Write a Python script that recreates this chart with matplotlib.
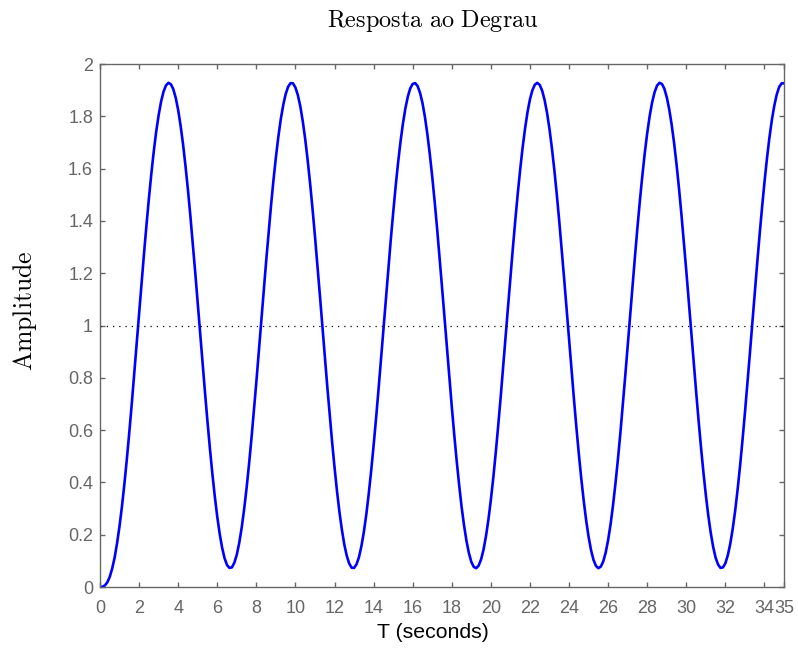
import matplotlib
matplotlib.use("Agg")
import matplotlib.pyplot as plt
import numpy as np
from matplotlib.ticker import FuncFormatter

plt.rcParams['mathtext.fontset'] = 'cm'

# tempo (s) e amplitude, passo de 0.125 s (uma linha = 1 s)
t = np.arange(0, 35.001, 0.125)
y = [0.000, 0.001, 0.006, 0.018, 0.039, 0.071, 0.113, 0.168,
     0.233, 0.309, 0.395, 0.490, 0.592, 0.700, 0.813, 0.928,
     1.044, 1.160, 1.273, 1.381, 1.484, 1.579, 1.665, 1.741,
     1.804, 1.856, 1.894, 1.918, 1.928, 1.923, 1.904, 1.871,
     1.824, 1.764, 1.693, 1.610, 1.519, 1.419, 1.312, 1.201,
     1.086, 0.970, 0.855, 0.742, 0.633, 0.529, 0.433, 0.346,
     0.269, 0.203, 0.150, 0.110, 0.084, 0.073, 0.075, 0.093,
     0.124, 0.169, 0.227, 0.297, 0.378, 0.469, 0.568, 0.674,
     0.784, 0.899, 1.014, 1.130, 1.244, 1.353, 1.458, 1.555,
     1.643, 1.721, 1.789, 1.843, 1.885, 1.913, 1.927, 1.926,
     1.910, 1.881, 1.838, 1.781, 1.713, 1.633, 1.544, 1.446,
     1.341, 1.231, 1.117, 1.001, 0.885, 0.771, 0.661, 0.556,
     0.458, 0.368, 0.288, 0.220, 0.163, 0.120, 0.090, 0.074,
     0.073, 0.087, 0.114, 0.156, 0.210, 0.277, 0.356, 0.444,
     0.541, 0.645, 0.754, 0.868, 0.984, 1.099, 1.214, 1.325,
     1.430, 1.530, 1.621, 1.702, 1.772, 1.830, 1.875, 1.907,
     1.924, 1.927, 1.916, 1.890, 1.851, 1.798, 1.732, 1.655,
     1.569, 1.473, 1.370, 1.260, 1.147, 1.032, 0.916, 0.801,
     0.690, 0.583, 0.483, 0.391, 0.308, 0.237, 0.177, 0.130,
     0.096, 0.077, 0.072, 0.082, 0.106, 0.143, 0.195, 0.258,
     0.334, 0.419, 0.514, 0.617, 0.725, 0.838, 0.953, 1.069,
     1.184, 1.296, 1.403, 1.504, 1.597, 1.681, 1.754, 1.816,
     1.865, 1.900, 1.921, 1.928, 1.920, 1.898, 1.862, 1.813,
     1.751, 1.677, 1.593, 1.499, 1.398, 1.289, 1.178, 1.063,
     0.947, 0.832, 0.719, 0.611, 0.509, 0.415, 0.330, 0.255,
     0.192, 0.141, 0.104, 0.081, 0.072, 0.078, 0.098, 0.132,
     0.180, 0.240, 0.313, 0.396, 0.488, 0.588, 0.696, 0.807,
     0.922, 1.038, 1.153, 1.266, 1.375, 1.478, 1.573, 1.660,
     1.736, 1.801, 1.853, 1.892, 1.917, 1.928, 1.924, 1.906,
     1.873, 1.827, 1.768, 1.698, 1.616, 1.525, 1.425, 1.318,
     1.208, 1.093, 0.977, 0.862, 0.749, 0.639, 0.535, 0.439,
     0.351, 0.273, 0.207, 0.153, 0.112, 0.086, 0.073, 0.075,
     0.091, 0.122, 0.166, 0.223, 0.292, 0.373, 0.463, 0.562,
     0.667, 0.777, 0.891, 1.007, 1.123, 1.237, 1.347, 1.451,
     1.549, 1.638, 1.717, 1.785, 1.840, 1.883, 1.912, 1.926,
     1.926]
ref = 1.0
xticks = list(range(0, 35, 2)) + [35]
yticks = np.arange(0, 2.01, 0.2)

fig = plt.figure(figsize=(7.98, 6.48), dpi=100)
ax = fig.add_axes([0.1253, 0.0941, 0.8572, 0.8071])

ax.plot(t, y, color='#0000ff', lw=1.9)
ax.plot([0, 35], [ref, ref], color='black', lw=0.9, dashes=(1, 4))

ax.set_xlim(0, 35)
ax.set_ylim(0, 2)
ax.set_xticks(xticks)
ax.set_yticks(yticks)
ax.yaxis.set_major_formatter(FuncFormatter(lambda v, p: '%g' % round(v, 1)))

gray = '#666666'
for s in ax.spines.values():
    s.set_color(gray)
    s.set_linewidth(1.0)
ax.tick_params(direction='in', length=3.5, width=1, colors=gray, labelcolor=gray,
               labelsize=13, top=True, right=True)
ax.tick_params(axis='x', pad=9)
ax.tick_params(axis='y', pad=5)
for lab in ax.get_xticklabels() + ax.get_yticklabels():
    lab.set_family('Liberation Sans')

# titulo e rotulos (fonte tipo LaTeX como no original)
fig.text(0.5426, 0.9583, r'$\mathrm{Resposta\ ao\ Degrau}$', fontsize=17.5,
         ha='center', va='baseline')
ax.set_ylabel(r'$\mathrm{Amplitude}$', fontsize=18.5)
ax.yaxis.set_label_coords(-0.089, 0.5287)
ax.set_xlabel('T (seconds)', fontsize=15.3, family='Liberation Sans')
ax.xaxis.set_label_coords(0.487, -0.0689)

fig.savefig('out.png', dpi=100)
